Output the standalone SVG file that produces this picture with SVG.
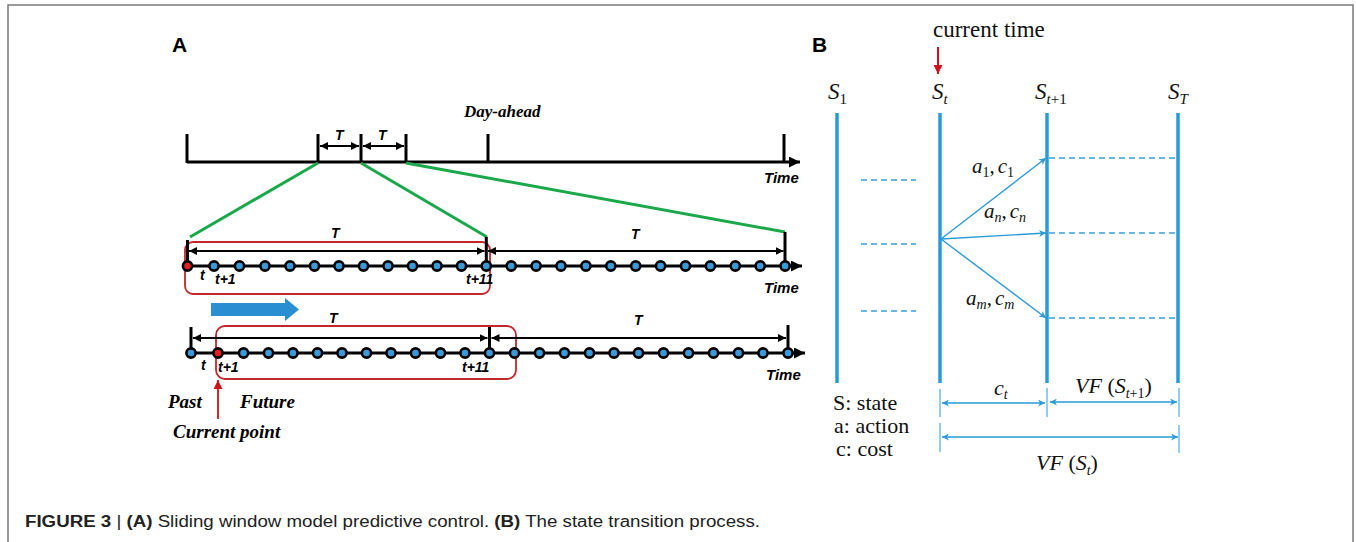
<svg xmlns="http://www.w3.org/2000/svg" width="1356" height="542" viewBox="0 0 1356 542">
<defs>
<style>
.ln{stroke:#000;stroke-width:3;fill:none}
.dim{stroke:#000;stroke-width:2.2;fill:none}
.g{stroke:#1aa84a;stroke-width:3;fill:none}
.dot{fill:#3a9ad9;stroke:#000;stroke-width:2.6}
.rdot{fill:#e3201b;stroke:#000;stroke-width:2.6}
.win{fill:none;stroke:#c0282d;stroke-width:1.8}
.lab{font-family:"Liberation Sans",Arial,sans-serif;font-weight:bold;font-style:italic;fill:#000}
.ser{font-family:"Liberation Serif","Times New Roman",serif;font-weight:bold;font-style:italic;fill:#000}
.m{font-family:"Liberation Serif","Times New Roman",serif;fill:#111}
.it{font-style:italic}
.bv{stroke:#2a9ad8;stroke-width:3.5;fill:none}
.bd{stroke:#3aa0dc;stroke-width:1.6;stroke-dasharray:6 4;fill:none}
.ba{stroke:#2a9ad8;stroke-width:1.4;fill:none}
.bt{stroke:#2a9ad8;stroke-width:1;fill:none}
.cap{font-family:"Liberation Sans",Arial,sans-serif;font-size:16px;fill:#222}
</style>
<marker id="ah" viewBox="0 0 10 10" refX="10" refY="5" markerWidth="8" markerHeight="8" markerUnits="userSpaceOnUse" orient="auto-start-reverse"><path d="M0,0 L10,5 L0,10 z" fill="#000"/></marker>
<marker id="at" viewBox="0 0 10 10" refX="10" refY="5" markerWidth="12" markerHeight="11" markerUnits="userSpaceOnUse" orient="auto"><path d="M0,0 L10,5 L0,10 z" fill="#000"/></marker>
<marker id="bh" viewBox="0 0 10 10" refX="10" refY="5" markerWidth="9" markerHeight="7" markerUnits="userSpaceOnUse" orient="auto-start-reverse"><path d="M0,0 L10,5 L0,10 L3,5 z" fill="#2a9ad8"/></marker>
<marker id="rh" viewBox="0 0 10 10" refX="10" refY="5" markerWidth="10" markerHeight="9" markerUnits="userSpaceOnUse" orient="auto"><path d="M0,0 L10,5 L0,10 z" fill="#d0121b"/></marker>
</defs>

<rect x="8" y="5" width="1345" height="560" fill="#fff" stroke="#7a7a7a" stroke-width="1.5"/>

<!-- Panel A -->
<g id="panelA">
<text x="172" y="52" font-family="Liberation Sans,Arial,sans-serif" font-weight="bold" font-size="21">A</text>

<g id="top-timeline">
<line class="ln" x1="187" y1="162" x2="800" y2="162" marker-end="url(#at)"/>
<line class="ln" x1="187" y1="134" x2="187" y2="163"/>
<line class="ln" x1="318" y1="134" x2="318" y2="163"/>
<line class="ln" x1="361" y1="134" x2="361" y2="163"/>
<line class="ln" x1="406" y1="134" x2="406" y2="163"/>
<line class="ln" x1="488" y1="134" x2="488" y2="163"/>
<line class="ln" x1="784" y1="134" x2="784" y2="163"/>
<line class="dim" x1="320" y1="146" x2="359" y2="146" marker-start="url(#ah)" marker-end="url(#ah)"/>
<line class="dim" x1="363" y1="146" x2="404" y2="146" marker-start="url(#ah)" marker-end="url(#ah)"/>
<text class="lab" x="335" y="140" font-size="14">T</text>
<text class="lab" x="378" y="140" font-size="14">T</text>
<text class="ser" x="464" y="117" font-size="17">Day-ahead</text>
<text class="lab" x="764" y="183" font-size="15">Time</text>
</g>

<g id="zoom-lines">
<line class="g" x1="318" y1="163" x2="190" y2="237"/>
<line class="g" x1="361" y1="163" x2="487" y2="237"/>
<line class="g" x1="406" y1="163" x2="785" y2="232"/>
</g>

<g id="mid-timeline">
<rect class="win" x="185" y="242" width="305" height="52" rx="8"/>
<line class="ln" x1="187" y1="266" x2="802" y2="266" marker-end="url(#at)"/>
<line class="ln" x1="187.5" y1="240" x2="187.5" y2="266"/>
<line class="ln" x1="486.3" y1="237" x2="486.3" y2="266"/>
<line class="ln" x1="785" y1="232" x2="785" y2="266"/>
<line class="dim" x1="189" y1="251" x2="484.5" y2="251" marker-start="url(#ah)" marker-end="url(#ah)"/>
<line class="dim" x1="488" y1="251" x2="783.5" y2="251" marker-start="url(#ah)" marker-end="url(#ah)"/>
<text class="lab" x="331" y="238" font-size="14">T</text>
<text class="lab" x="631" y="239" font-size="14">T</text>
<circle class="rdot" cx="187.5" cy="266" r="4.6"/>
<circle class="dot" cx="214" cy="266" r="4.6"/>
<circle class="dot" cx="239.5" cy="266" r="4.6"/>
<circle class="dot" cx="265" cy="266" r="4.6"/>
<circle class="dot" cx="290" cy="266" r="4.6"/>
<circle class="dot" cx="314.5" cy="266" r="4.6"/>
<circle class="dot" cx="339" cy="266" r="4.6"/>
<circle class="dot" cx="363.5" cy="266" r="4.6"/>
<circle class="dot" cx="388" cy="266" r="4.6"/>
<circle class="dot" cx="412.5" cy="266" r="4.6"/>
<circle class="dot" cx="437" cy="266" r="4.6"/>
<circle class="dot" cx="461.5" cy="266" r="4.6"/>
<circle class="dot" cx="486.3" cy="266" r="4.6"/>
<circle class="dot" cx="511.2" cy="266" r="4.6"/>
<circle class="dot" cx="536.1" cy="266" r="4.6"/>
<circle class="dot" cx="561" cy="266" r="4.6"/>
<circle class="dot" cx="585.9" cy="266" r="4.6"/>
<circle class="dot" cx="610.8" cy="266" r="4.6"/>
<circle class="dot" cx="635.7" cy="266" r="4.6"/>
<circle class="dot" cx="660.6" cy="266" r="4.6"/>
<circle class="dot" cx="685.5" cy="266" r="4.6"/>
<circle class="dot" cx="710.4" cy="266" r="4.6"/>
<circle class="dot" cx="735.3" cy="266" r="4.6"/>
<circle class="dot" cx="760.2" cy="266" r="4.6"/>
<circle class="dot" cx="785.1" cy="266" r="4.6"/>
<text class="lab" x="200" y="280" font-size="14">t</text>
<text class="lab" x="215" y="284" font-size="14">t+1</text>
<text class="lab" x="466" y="284" font-size="14">t+11</text>
<text class="lab" x="764" y="293" font-size="15">Time</text>
</g>

<path id="slide-arrow" d="M211,303 L285,303 L285,298 L299,309.5 L285,321 L285,316 L211,316 z" fill="#2a8fd2"/>

<g id="bot-timeline">
<rect class="win" x="216" y="326" width="300" height="53" rx="9"/>
<line class="ln" x1="190" y1="353" x2="805" y2="353" marker-end="url(#at)"/>
<line class="ln" x1="191" y1="327" x2="191" y2="353"/>
<line class="ln" x1="489.5" y1="327" x2="489.5" y2="353"/>
<line class="ln" x1="788" y1="325" x2="788" y2="353"/>
<line class="dim" x1="193" y1="338" x2="487.5" y2="338" marker-start="url(#ah)" marker-end="url(#ah)"/>
<line class="dim" x1="491.5" y1="338" x2="786" y2="338" marker-start="url(#ah)" marker-end="url(#ah)"/>
<text class="lab" x="329" y="323" font-size="14">T</text>
<text class="lab" x="634" y="325" font-size="14">T</text>
<circle class="dot" cx="191" cy="353" r="4.6"/>
<circle class="rdot" cx="218" cy="353" r="4.6"/>
<circle class="dot" cx="243.5" cy="353" r="4.6"/>
<circle class="dot" cx="268.5" cy="353" r="4.6"/>
<circle class="dot" cx="293" cy="353" r="4.6"/>
<circle class="dot" cx="317.5" cy="353" r="4.6"/>
<circle class="dot" cx="342" cy="353" r="4.6"/>
<circle class="dot" cx="366.5" cy="353" r="4.6"/>
<circle class="dot" cx="391" cy="353" r="4.6"/>
<circle class="dot" cx="415.5" cy="353" r="4.6"/>
<circle class="dot" cx="440.5" cy="353" r="4.6"/>
<circle class="dot" cx="465" cy="353" r="4.6"/>
<circle class="dot" cx="489.5" cy="353" r="4.6"/>
<circle class="dot" cx="514.5" cy="353" r="4.6"/>
<circle class="dot" cx="539.5" cy="353" r="4.6"/>
<circle class="dot" cx="564.5" cy="353" r="4.6"/>
<circle class="dot" cx="589.5" cy="353" r="4.6"/>
<circle class="dot" cx="614" cy="353" r="4.6"/>
<circle class="dot" cx="638.5" cy="353" r="4.6"/>
<circle class="dot" cx="663.5" cy="353" r="4.6"/>
<circle class="dot" cx="688.5" cy="353" r="4.6"/>
<circle class="dot" cx="713.5" cy="353" r="4.6"/>
<circle class="dot" cx="738.5" cy="353" r="4.6"/>
<circle class="dot" cx="763" cy="353" r="4.6"/>
<circle class="dot" cx="788" cy="353" r="4.6"/>
<text class="lab" x="201" y="370" font-size="14">t</text>
<text class="lab" x="218" y="372" font-size="14">t+1</text>
<text class="lab" x="462" y="372" font-size="14">t+11</text>
<text class="lab" x="766" y="380" font-size="15">Time</text>
</g>

<g id="current-point">
<line x1="218" y1="419" x2="218" y2="380" stroke="#d0121b" stroke-width="1.8" marker-end="url(#rh)"/>
<text class="ser" x="168" y="408" font-size="19">Past</text>
<text class="ser" x="240" y="408" font-size="19">Future</text>
<text class="ser" x="173" y="438" font-size="19">Current point</text>
</g>
</g>

<!-- Panel B -->
<g id="panelB">
<text x="812" y="52" font-family="Liberation Sans,Arial,sans-serif" font-weight="bold" font-size="21">B</text>
<text class="m" x="933" y="37" font-size="23">current time</text>
<line x1="938" y1="47" x2="938" y2="74" stroke="#d0121b" stroke-width="2" marker-end="url(#rh)"/>

<g id="states">
<text class="m" x="828" y="99" font-size="23"><tspan class="it">S</tspan><tspan font-size="15" dy="5">1</tspan></text>
<text class="m" x="932" y="99" font-size="23"><tspan class="it">S</tspan><tspan class="it" font-size="15" dy="5">t</tspan></text>
<text class="m" x="1035" y="99" font-size="23"><tspan class="it">S</tspan><tspan class="it" font-size="15" dy="5">t</tspan><tspan font-size="15">+1</tspan></text>
<text class="m" x="1168" y="99" font-size="23"><tspan class="it">S</tspan><tspan class="it" font-size="15" dy="5">T</tspan></text>
<line class="bv" x1="837" y1="113" x2="837" y2="383"/>
<line class="bv" x1="940" y1="113" x2="940" y2="383"/>
<line class="bv" x1="1047" y1="113" x2="1047" y2="383"/>
<line class="bv" x1="1178" y1="113" x2="1178" y2="383"/>
</g>

<g id="connectors">
<line class="bd" x1="861" y1="180" x2="916" y2="180"/>
<line class="bd" x1="861" y1="244" x2="916" y2="244"/>
<line class="bd" x1="861" y1="311" x2="916" y2="311"/>
<line class="bd" x1="1049" y1="158" x2="1178" y2="158"/>
<line class="bd" x1="1049" y1="233" x2="1178" y2="233"/>
<line class="bd" x1="1049" y1="318" x2="1178" y2="318"/>
<line class="ba" x1="941" y1="239" x2="1046" y2="158" marker-end="url(#bh)"/>
<line class="ba" x1="941" y1="239" x2="1046" y2="233" marker-end="url(#bh)"/>
<line class="ba" x1="941" y1="239" x2="1046" y2="318" marker-end="url(#bh)"/>
</g>

<g id="action-labels" class="m" font-size="21">
<text x="972" y="173"><tspan class="it">a</tspan><tspan font-size="14" dy="4">1</tspan><tspan dy="-4">,</tspan><tspan class="it" dx="3">c</tspan><tspan font-size="14" dy="4">1</tspan></text>
<text x="984" y="218"><tspan class="it">a</tspan><tspan class="it" font-size="14" dy="4">n</tspan><tspan dy="-4">,</tspan><tspan class="it" dx="3">c</tspan><tspan class="it" font-size="14" dy="4">n</tspan></text>
<text x="966" y="305"><tspan class="it">a</tspan><tspan class="it" font-size="14" dy="4">m</tspan><tspan dy="-4">,</tspan><tspan class="it" dx="3">c</tspan><tspan class="it" font-size="14" dy="4">m</tspan></text>
</g>

<g id="legend" class="m" font-size="22">
<text x="833" y="410">S: state</text>
<text x="834" y="433">a: action</text>
<text x="836" y="456">c: cost</text>
</g>

<g id="dimensions">
<line class="bt" x1="940" y1="389" x2="940" y2="417"/>
<line class="bt" x1="940" y1="423" x2="940" y2="452"/>
<line class="bt" x1="1047" y1="388" x2="1047" y2="417"/>
<line class="bt" x1="1179" y1="388" x2="1179" y2="417"/>
<line class="bt" x1="1179" y1="425" x2="1179" y2="453"/>
<line class="ba" x1="942" y1="403" x2="1045" y2="403" marker-start="url(#bh)" marker-end="url(#bh)"/>
<line class="ba" x1="1050" y1="402" x2="1177" y2="402" marker-start="url(#bh)" marker-end="url(#bh)"/>
<line class="ba" x1="942" y1="437" x2="1178" y2="437" marker-start="url(#bh)" marker-end="url(#bh)"/>
<text class="m" x="994" y="395" font-size="22"><tspan class="it">c</tspan><tspan class="it" font-size="14" dy="4">t</tspan></text>
<text class="m" x="1075" y="393" font-size="22"><tspan class="it">VF</tspan> (<tspan class="it">S</tspan><tspan class="it" font-size="14" dy="5">t</tspan><tspan font-size="14">+1</tspan><tspan dy="-5">)</tspan></text>
<text class="m" x="1036" y="470" font-size="22"><tspan class="it">VF</tspan> (<tspan class="it">S</tspan><tspan class="it" font-size="14" dy="5">t</tspan><tspan dy="-5">)</tspan></text>
</g>
</g>

<text class="cap" x="25" y="527" textLength="735" lengthAdjust="spacingAndGlyphs"><tspan font-weight="bold">FIGURE 3</tspan> | <tspan font-weight="bold">(A)</tspan> Sliding window model predictive control. <tspan font-weight="bold">(B)</tspan> The state transition process.</text>
</svg>
